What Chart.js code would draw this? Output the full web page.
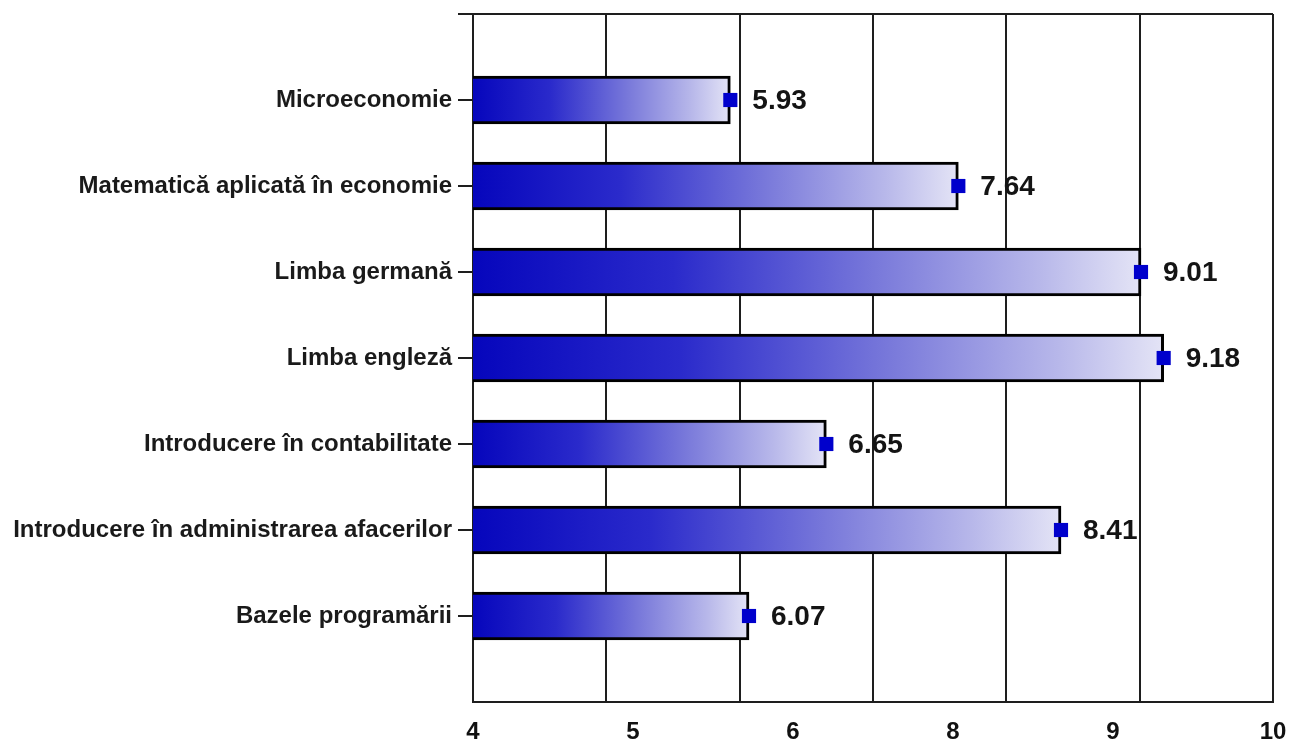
<!DOCTYPE html>
<html>
<head>
<meta charset="utf-8">
<script src="https://cdn.jsdelivr.net/npm/chart.js@4"></script>
<style>
  html, body { margin: 0; padding: 0; background: #ffffff; }
  #wrap { width: 1289px; height: 742px; }
</style>
</head>
<body>
<div id="wrap"><canvas id="c" width="1289" height="742"></canvas></div>
<script>
const categories = [
  'Microeconomie',
  'Matematică aplicată în economie',
  'Limba germană',
  'Limba engleză',
  'Introducere în contabilitate',
  'Introducere în administrarea afacerilor',
  'Bazele programării'
];
const scores = [5.93, 7.64, 9.01, 9.18, 6.65, 8.41, 6.07];
const axisTickLabels = ['4', '5', '6', '8', '9', '10'];

const FONT = "'Liberation Sans', Arial, sans-serif";
const yLabels = [''].concat(categories, ['']);
const barData = [null].concat(scores, [null]);

function barGradient(ctx) {
  const chart = ctx.chart;
  if (!chart.chartArea) return '#1010c8';
  const v = ctx.raw;
  if (v == null) return 'rgba(0,0,0,0)';
  const xs = chart.scales.x;
  const x0 = xs.getPixelForValue(xs.min);
  const x1 = xs.getPixelForValue(v);
  const g = chart.ctx.createLinearGradient(x0, 0, x1, 0);
  g.addColorStop(0, '#0606bc');
  g.addColorStop(0.3, '#2a2acb');
  g.addColorStop(0.6, '#7878da');
  g.addColorStop(0.85, '#b8b8ea');
  g.addColorStop(1, '#e4e4f6');
  return g;
}

function noPad(s) {
  s.paddingTop = 0; s.paddingBottom = 0; s.paddingLeft = 0; s.paddingRight = 0;
}

const valueLabels = {
  id: 'valueLabels',
  afterDatasetsDraw(chart) {
    const meta = chart.getDatasetMeta(1);
    const c = chart.ctx;
    c.save();
    c.font = "bold 28px " + FONT;
    c.fillStyle = '#141414';
    c.textAlign = 'left';
    c.textBaseline = 'middle';
    meta.data.forEach((el, i) => {
      const v = barData[i];
      if (v == null) return;
      c.fillText(v.toFixed(2), el.x + 22, el.y + 1);
    });
    c.restore();
  }
};

new Chart(document.getElementById('c'), {
  type: 'bar',
  data: {
    labels: yLabels,
    datasets: [
      {
        type: 'line',
        data: barData,
        showLine: false,
        pointStyle: 'rect',
        pointRadius: 10,
        pointHoverRadius: 10,
        pointBackgroundColor: '#0000cc',
        pointBorderColor: '#0000cc',
        pointBorderWidth: 0,
        xAxisID: 'x',
        order: 0
      },
      {
        type: 'bar',
        data: barData,
        backgroundColor: barGradient,
        borderColor: '#000000',
        borderWidth: 3,
        borderSkipped: false,
        barThickness: 48,
        xAxisID: 'x',
        order: 1
      }
    ]
  },
  options: {
    indexAxis: 'y',
    responsive: false,
    animation: false,
    layout: { padding: { top: 14, right: 16, left: 0, bottom: 0 } },
    plugins: { legend: { display: false }, tooltip: { enabled: false } },
    scales: {
      x: {
        type: 'linear',
        position: 'bottom',
        min: 4, max: 10,
        ticks: { display: false, stepSize: 1 },
        grid: { color: '#1e1e1e', lineWidth: 2, drawTicks: false, tickLength: 0 },
        border: { display: true, color: '#1e1e1e', width: 2 },
        afterFit: (s) => { noPad(s); s.height = 0; }
      },
      x2: {
        type: 'linear',
        position: 'bottom',
        min: 0, max: 5,
        ticks: {
          stepSize: 1,
          padding: 18,
          color: '#111',
          font: { family: FONT, size: 24, weight: 'bold', lineHeight: 1 },
          callback: (v) => axisTickLabels[v]
        },
        grid: { display: false, drawTicks: false },
        border: { display: false },
        afterFit: (s) => { noPad(s); s.height = 40; }
      },
      y: {
        type: 'category',
        offset: false,
        ticks: {
          autoSkip: false,
          padding: 6,
          color: '#1a1a1a',
          font: { family: FONT, size: 24, weight: 'bold' }
        },
        grid: {
          offset: false,
          drawOnChartArea: true,
          color: (ctx) => ctx.index === 0 ? '#1e1e1e' : 'rgba(0,0,0,0)',
          lineWidth: 2,
          tickLength: 15,
          tickColor: (ctx) => ctx.index === yLabels.length - 1 ? 'rgba(0,0,0,0)' : '#1e1e1e',
          tickWidth: 2
        },
        border: { display: true, color: '#1e1e1e', width: 2 },
        afterFit: (s) => { noPad(s); s.width = 473; }
      }
    }
  },
  plugins: [valueLabels]
});
</script>
</body>
</html>
